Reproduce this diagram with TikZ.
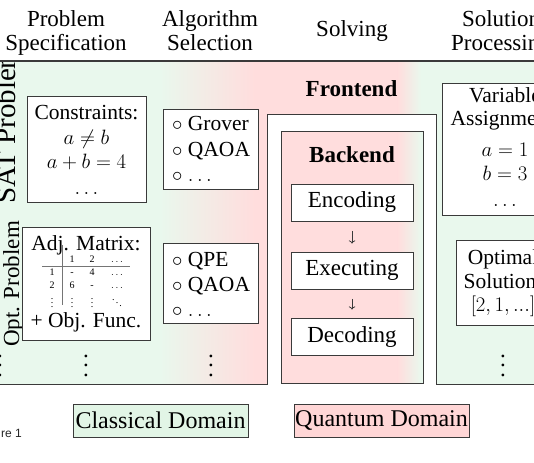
\documentclass[tikz,border=0pt]{standalone}
\usepackage[no-math]{fontspec}
\usepackage{graphicx}
\setmainfont{Liberation Serif}
\newfontfamily\capfont{Liberation Sans}
\usetikzlibrary{arrows.meta}
\definecolor{mint}{RGB}{233,248,237}
\definecolor{rosa}{RGB}{255,221,221}
\definecolor{mintbox}{RGB}{226,245,230}
\definecolor{rosabox}{RGB}{255,214,214}
\definecolor{edge}{RGB}{58,58,58}
\newcommand{\fs}[1]{\fontsize{#1}{#1}\selectfont}
\newcommand{\bigvdots}{\scalebox{2.3}{\fs{10}$\vdots$}}
\newcommand{\bgfill}{%
  \fill[mint] (-20,61) rectangle (160,384.5);
  \shade[left color=mint,right color=rosa] (159.5,61) rectangle (255,384.5);
  \fill[rosa] (254.5,61) rectangle (398,384.5);
  \shade[left color=rosa,right color=mint] (397.5,61) rectangle (421,384.5);
  \fill[mint] (420.5,61) rectangle (580,384.5);}
\tikzset{
  hdr/.style={anchor=base, inner sep=0pt, font=\fs{23}},
  txt/.style={anchor=base, inner sep=0pt, font=\fs{21.5}},
  itm/.style={anchor=base west, inner sep=0pt, font=\fs{21.5}},
  tab/.style={anchor=base, inner sep=0pt, font=\fs{10}},
  vd/.style={anchor=base, inner sep=0pt},
  box/.style={draw=edge, fill=white, line width=0.9pt, inner sep=0pt},
  stage/.style={box, font=\fs{23}},
  dom/.style={draw=edge, line width=0.8pt, inner sep=0pt, font=\fs{24}},
  flow/.style={draw=edge, line width=0.7pt, -{Computer Modern Rightarrow}, shorten <=9.5pt, shorten >=8pt},
  frameline/.style={draw=edge, line width=1pt},
}
\begin{document}
\begin{tikzpicture}[x=1pt,y=-1pt]
\useasboundingbox (0,0) rectangle (534,462);
\clip (0,0) rectangle (534,462);
\fill[white] (0,0) rectangle (534,462);
% header
\node[hdr] (h1a) at (66,27) {Problem};
\node[hdr] (h1b) at (66,51) {Specification};
\node[hdr] (h2a) at (210,27) {Algorithm};
\node[hdr] (h2b) at (210,51) {Selection};
\node[hdr] (h3) at (352,37) {Solving};
\node[hdr] (h4a) at (501,27) {Solution};
\node[hdr] (h4b) at (501,51) {Processing};
% background panel
\bgfill
\draw[frameline] (-20,384) -- (267,384);
\draw[frameline] (436,384) -- (580,384);
% row labels
\begin{scope}
  \clip (-20,62) rectangle (267,384);
  \node[anchor=base, inner sep=0pt, font=\fs{29}, rotate=90] (sat) at (15,125) {SAT Problem};
  \node[hdr, rotate=90] (opt) at (19,284) {Opt. Problem};
\end{scope}
\draw[edge, line width=2pt] (-20,61) -- (580,61);
\node[vd] (lvd) at (0,376) {\bigvdots};
% frontend
\fill[white] (266.5,115) rectangle (436.5,386);
\draw[frameline] (267,384.5) -- (267,115) -- (436,115) -- (436,384.5);
\node[anchor=base, inner sep=0pt, font=\fs{23}\bfseries] (front) at (351.5,97) {Frontend};
% backend
\begin{scope}
  \clip (281,132) rectangle (423,383);
  \bgfill
\end{scope}
\node[draw=edge, line width=1pt, inner sep=0pt, minimum width=142pt, minimum height=251pt] (back) at (352,257.5) {};
\node[anchor=base, inner sep=0pt, font=\fs{23}\bfseries] (backl) at (352,163) {Backend};
\node[stage, minimum width=122pt, minimum height=37pt] (enc) at (352,202.5) {Encoding};
\node[stage, minimum width=122pt, minimum height=37pt] (exe) at (352,270.5) {Executing};
\node[stage, minimum width=122pt, minimum height=37pt] (dec) at (352,336.5) {Decoding};
\draw[flow] (enc) -- (exe);
\draw[flow] (exe) -- (dec);
% problem specification column
\node[box, minimum width=119pt, minimum height=106pt] (cons) at (86.5,149) {};
\node[txt] (c1) at (86.5,120) {Constraints:};
\node[txt] (c2) at (86.5,145) {$a\neq b$};
\node[txt] (c3) at (86.5,168) {$a+b=4$};
\node[txt] (c4) at (86.5,194) {$\ldots$};
\node[box, minimum width=128pt, minimum height=113pt] (adj) at (86,283.5) {};
\node[txt] (a1) at (86,250) {Adj. Matrix:};
\node[txt] (a2) at (86,327) {+ Obj. Func.};
\draw[edge!70, line width=0.6pt] (62,245) -- (62,305);
\draw[edge!70, line width=0.6pt] (42,266) -- (130,266);
\node[tab] (t01) at (72,262) {1};
\node[tab] (t02) at (92,262) {2};
\node[tab] (t03) at (117,262) {$\ldots$};
\node[tab] (t10) at (52,275) {1};
\node[tab] (t11) at (72,275) {-};
\node[tab] (t12) at (92,275) {4};
\node[tab] (t13) at (117,275) {$\ldots$};
\node[tab] (t20) at (52,288) {2};
\node[tab] (t21) at (72,288) {6};
\node[tab] (t22) at (92,288) {-};
\node[tab] (t23) at (117,288) {$\ldots$};
\node[tab] (t30) at (52,307) {$\vdots$};
\node[tab] (t31) at (72,307) {$\vdots$};
\node[tab] (t32) at (92,307) {$\vdots$};
\node[tab] (t33) at (117,307) {$\ddots$};
\node[vd] (vd1) at (86,376) {\bigvdots};
% algorithm selection column
\node[box, minimum width=95pt, minimum height=80pt] (alg1) at (210.5,149) {};
\node[itm] (g1) at (172,131) {$\circ$ Grover};
\node[itm] (g2) at (172,157) {$\circ$ QAOA};
\node[itm] (g3) at (172,182) {$\circ$ $\ldots$};
\node[box, minimum width=95pt, minimum height=80pt] (alg2) at (210.5,283) {};
\node[itm] (q1) at (172,266) {$\circ$ QPE};
\node[itm] (q2) at (172,291) {$\circ$ QAOA};
\node[itm] (q3) at (172,316) {$\circ$ $\ldots$};
\node[vd] (vd2) at (211,376) {\bigvdots};
% solution processing column
\node[box, minimum width=126pt, minimum height=132pt] (var) at (505,149) {};
\node[txt] (v1) at (505,103) {Variable};
\node[txt] (v2) at (505,126) {Assignment:};
\node[txt] (v3) at (505,157) {$a=1$};
\node[txt] (v4) at (505,180) {$b=3$};
\node[txt] (v5) at (505,206) {$\ldots$};
\node[box, minimum width=94pt, minimum height=85pt] (sol) at (503,282.5) {};
\node[txt] (s1) at (503,264) {Optimal};
\node[txt] (s2) at (503,288) {Solution:};
\node[txt] (s3) at (503,311) {$[2,1,...]$};
\node[vd] (vd3) at (503,376) {\bigvdots};
% legend
\node[dom, fill=mintbox, minimum width=175pt, minimum height=33pt] (cd) at (160.5,420.5) {Classical Domain};
\node[dom, fill=rosabox, minimum width=175pt, minimum height=33pt] (qd) at (381.5,420.5) {Quantum Domain};
\node[anchor=base east, inner sep=0pt, font=\capfont\fs{12}, text=black!85] (fig) at (22,437) {re 1};
\end{tikzpicture}
\end{document}
